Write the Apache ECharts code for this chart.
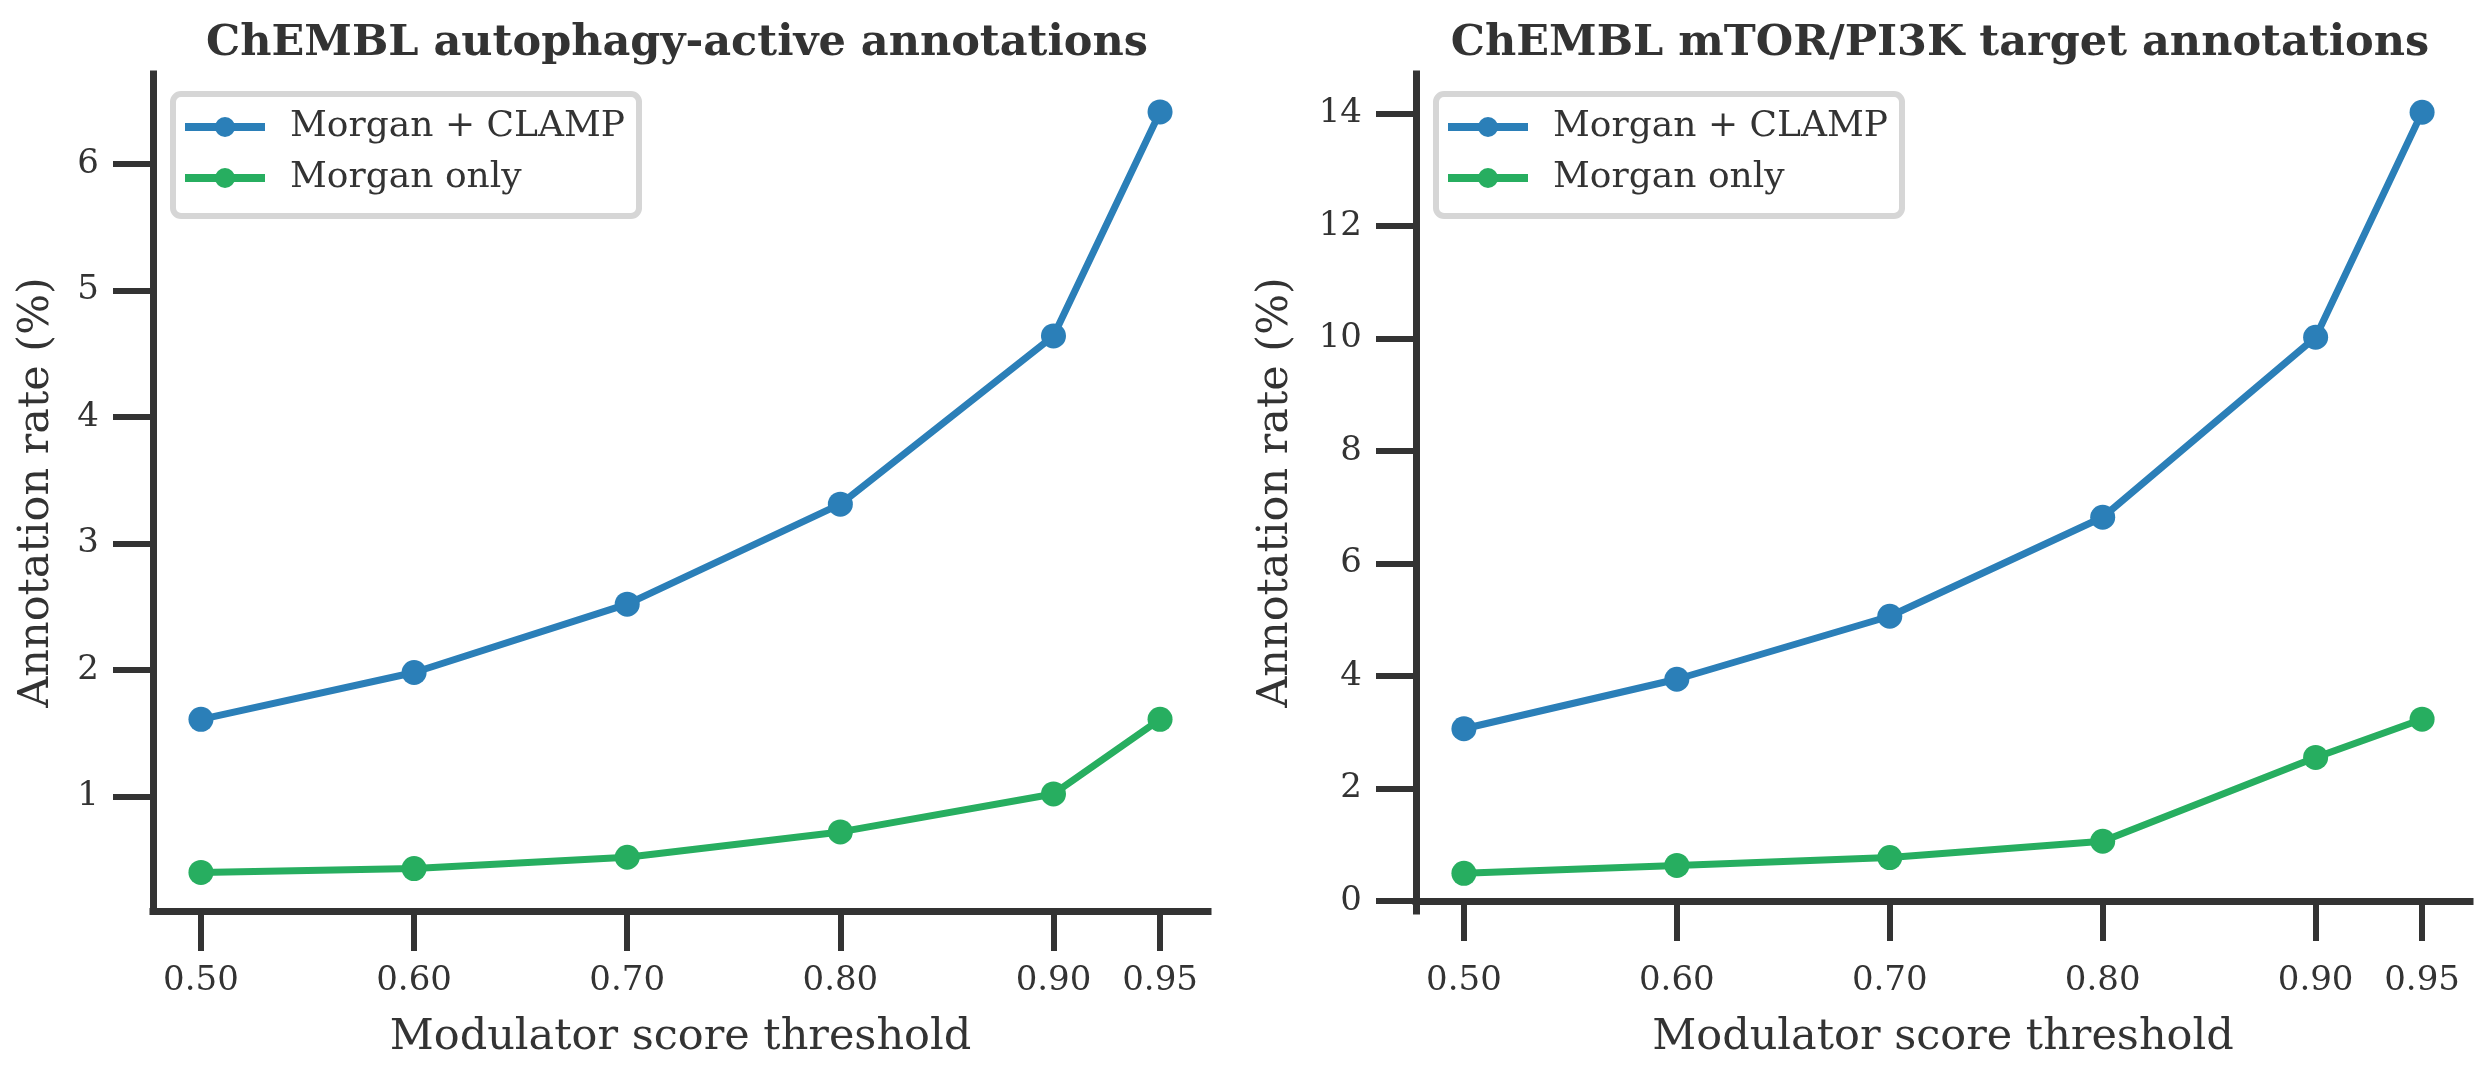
<!DOCTYPE html>
<html>
<head>
<meta charset="utf-8">
<script src="https://cdn.jsdelivr.net/npm/echarts@6.0.0/dist/echarts.min.js"></script>
<style>
  html, body { margin: 0; padding: 0; background: #fff; }
  #chart { width: 2484px; height: 1080px; }
</style>
</head>
<body>
<div id="chart"></div>
<script>
// thresholds on the x axis
const thresholds = [0.50, 0.60, 0.70, 0.80, 0.90, 0.95];
const xTickLabels = ['0.50', '0.60', '0.70', '0.80', '0.90', '0.95'];

// left panel: autophagy-active annotation rate (%)
const autophagyClamp = [1.61, 1.98, 2.52, 3.31, 4.64, 6.41];
const autophagyMorgan = [0.40, 0.43, 0.52, 0.72, 1.02, 1.61];
const autophagyYTicks = [1, 2, 3, 4, 5, 6];

// right panel: mTOR/PI3K target annotation rate (%)
const mtorClamp = [3.06, 3.94, 5.06, 6.82, 10.02, 14.02];
const mtorMorgan = [0.49, 0.63, 0.77, 1.06, 2.55, 3.23];
const mtorYTicks = [0, 2, 4, 6, 8, 10, 12, 14];

const titles = ['ChEMBL autophagy-active annotations', 'ChEMBL mTOR/PI3K target annotations'];
const seriesNames = ['Morgan + CLAMP', 'Morgan only'];

const BLUE = '#2b7fb8';
const GREEN = '#27ae60';
const INK = '#333333';
const FONT = '"DejaVu Serif", serif';

const pairs = (vals) => thresholds.map((t, i) => [t, vals[i]]);

const grids = [
  { left: 153, top: 74, width: 1055, height: 837 },
  { left: 1416, top: 74, width: 1054, height: 837 }
];

function xAxis(gi) {
  return {
    type: 'value', gridIndex: gi, min: 0.4775, max: 0.9725,
    name: 'Modulator score threshold', nameLocation: 'middle', nameGap: 105,
    nameTextStyle: { color: INK, fontFamily: FONT, fontSize: 43 },
    axisLine: { lineStyle: { color: INK, width: 7, cap: 'square' } },
    axisTick: { show: true, length: 40, lineStyle: { color: INK, width: 6 }, customValues: thresholds },
    axisLabel: {
      color: INK, fontFamily: FONT, fontSize: 34, margin: 53,
      customValues: thresholds,
      formatter: (v) => xTickLabels[thresholds.findIndex(t => Math.abs(t - v) < 1e-6)] || ''
    },
    splitLine: { show: false }
  };
}

function yAxis(gi, min, max, ticks, gap) {
  return {
    type: 'value', gridIndex: gi, min: min, max: max,
    name: 'Annotation rate (%)', nameLocation: 'middle', nameGap: gap, nameRotate: 90,
    nameTextStyle: { color: INK, fontFamily: FONT, fontSize: 43 },
    axisLine: { show: true, lineStyle: { color: INK, width: 7, cap: 'square' } },
    axisTick: { show: true, length: 40, lineStyle: { color: INK, width: 6 }, customValues: ticks },
    axisLabel: { color: INK, fontFamily: FONT, fontSize: 34, margin: 54, customValues: ticks },
    splitLine: { show: false }
  };
}

function lineSeries(name, color, data, gi) {
  return {
    name: name, type: 'line', xAxisIndex: gi, yAxisIndex: gi,
    data: pairs(data),
    symbol: 'circle', symbolSize: 25, showSymbol: true,
    lineStyle: { color: color, width: 7 },
    itemStyle: { color: color },
    z: 3
  };
}

function legend(left) {
  return {
    left: left, top: 94, orient: 'vertical',
    data: seriesNames,
    itemWidth: 80, itemHeight: 25, itemGap: 15,
    padding: [15, 14, 20, 8],
    backgroundColor: 'rgba(255,255,255,0.8)',
    borderColor: '#d6d6d6', borderWidth: 6, borderRadius: 8,
    lineStyle: { width: 8 },
    textStyle: { color: INK, fontFamily: FONT, fontSize: 36, padding: [0, 0, 0, 20] }
  };
}

const chart = echarts.init(document.getElementById('chart'), null, { renderer: 'canvas' });
chart.setOption({
  animation: false,
  backgroundColor: '#ffffff',
  title: [
    { text: titles[0], left: 672, top: 17, textAlign: 'center',
      textStyle: { color: INK, fontFamily: FONT, fontSize: 43, fontWeight: 'bold' } },
    { text: titles[1], left: 1935, top: 17, textAlign: 'center',
      textStyle: { color: INK, fontFamily: FONT, fontSize: 43, fontWeight: 'bold' } }
  ],
  legend: [legend(173), legend(1436)],
  grid: grids,
  xAxis: [xAxis(0), xAxis(1)],
  yAxis: [
    yAxis(0, 0.095, 6.71, autophagyYTicks, 95),
    yAxis(1, -0.18, 14.7, mtorYTicks, 119)
  ],
  series: [
    lineSeries(seriesNames[0], BLUE, autophagyClamp, 0),
    lineSeries(seriesNames[1], GREEN, autophagyMorgan, 0),
    lineSeries(seriesNames[0], BLUE, mtorClamp, 1),
    lineSeries(seriesNames[1], GREEN, mtorMorgan, 1)
  ]
});
</script>
</body>
</html>
